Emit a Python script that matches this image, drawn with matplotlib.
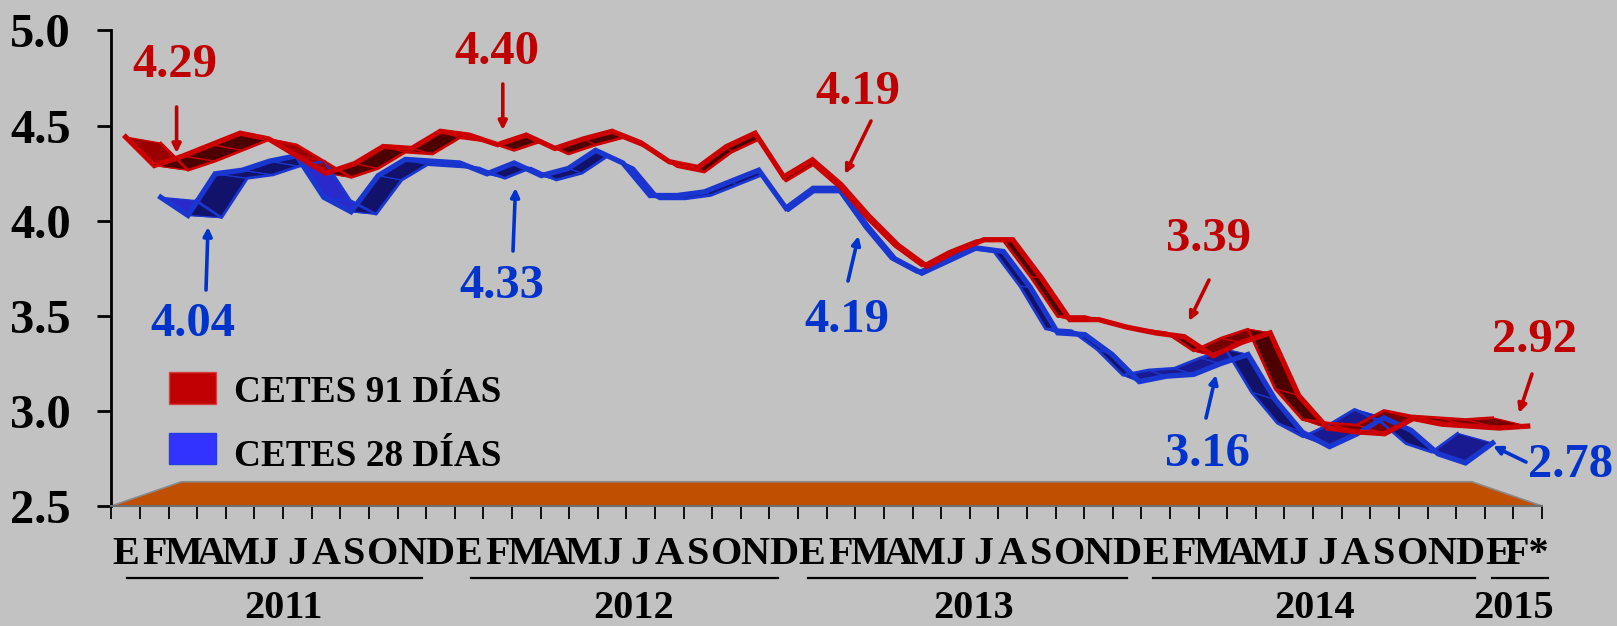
import matplotlib
matplotlib.use("Agg")
import matplotlib.pyplot as plt
from matplotlib.patches import Polygon, Rectangle

plt.rcParams['font.family'] = ['Liberation Serif', 'DejaVu Serif']
plt.rcParams['font.weight'] = 'bold'

W, H = 1617, 626
BG = '#C2C2C2'

cetes_91 = [4.44, 4.29, 4.34, 4.40, 4.46, 4.43, 4.34, 4.25, 4.30, 4.39,
            4.38, 4.47, 4.45, 4.40, 4.45, 4.38, 4.43, 4.47, 4.41, 4.31,
            4.28, 4.39, 4.46, 4.23, 4.32, 4.19, 4.02, 3.87, 3.76, 3.84,
            3.90, 3.90, 3.70, 3.48, 3.48, 3.44, 3.41, 3.39, 3.29, 3.36,
            3.41, 3.08, 2.91, 2.89, 2.88, 2.96, 2.93, 2.92, 2.91, 2.92]
cetes_28 = [4.14, 4.04, 4.27, 4.29, 4.34, 4.37, 4.14, 4.06, 4.26, 4.35,
            4.34, 4.33, 4.27, 4.33, 4.26, 4.30, 4.40, 4.33, 4.15, 4.15,
            4.17, 4.23, 4.29, 4.08, 4.19, 4.19, 3.98, 3.80, 3.72, 3.79,
            3.86, 3.84, 3.64, 3.39, 3.38, 3.27, 3.12, 3.15, 3.16, 3.22,
            3.27, 3.02, 2.84, 2.76, 2.83, 2.92, 2.85, 2.72, 2.67, 2.78]
months = list("EFMAMJJASOND") * 4 + ["E", "F*"]
years = ["2011", "2012", "2013", "2014", "2015"]
y_ticks = [2.5, 3.0, 3.5, 4.0, 4.5, 5.0]

# vanishing point of the 3D view, in data units
VP_X, VP_Y = 25.0, 3.80
FLOOR_DEPTH = 0.098


def project(x, y, z):
    return x + z * (VP_X - x), y + z * (VP_Y - y)


def pos(px, py):
    return px / W, 1 - py / H


def ribbon(ax, values, z0, z1, line, top, top_right, dark):
    for k in range(len(values) - 1):
        a = project(k + 0.5, values[k], z0)
        b = project(k + 1.5, values[k + 1], z0)
        c = project(k + 1.5, values[k + 1], z1)
        d = project(k + 0.5, values[k], z1)
        cross = (b[0] - a[0]) * (d[1] - a[1]) - (b[1] - a[1]) * (d[0] - a[0])
        if cross > 0:
            face = top if k < VP_X else top_right
        else:
            face = dark
        ax.add_patch(Polygon([a, b, c, d], closed=True, facecolor=face,
                             edgecolor=line, linewidth=0.9, clip_on=False))
    xs = [k + 0.5 for k in range(len(values))]
    far = [project(x, v, z1) for x, v in zip(xs, values)]
    near = [project(x, v, z0) for x, v in zip(xs, values)]
    ax.plot([p[0] for p in far], [p[1] for p in far], color=line, lw=2.0,
            solid_joinstyle='round', clip_on=False)
    ax.plot([p[0] for p in near], [p[1] for p in near], color=line, lw=3.8,
            solid_joinstyle='miter', clip_on=False)


fig = plt.figure(figsize=(W / 100, H / 100), dpi=100, facecolor=BG)
ax = fig.add_axes([111.4 / W, 1 - 506 / H, (1542 - 111.4) / W, (506 - 30.5) / H])
ax.set_facecolor(BG)
ax.set_xlim(0, 50)
ax.set_ylim(2.5, 5.0)

floor = [(0, 2.5), (50, 2.5), project(50, 2.5, FLOOR_DEPTH), project(0, 2.5, FLOOR_DEPTH)]
ax.add_patch(Polygon(floor, closed=True, facecolor='#C05000', edgecolor='#8A8A8A', linewidth=1.2))

ribbon(ax, cetes_28, 0.05, 0.10, '#1A36D0', '#2A2ACC', '#1A1A90', '#12126A')
ribbon(ax, cetes_91, 0.0, 0.05, '#CC0000', '#9A0000', '#760000', '#4D0000')

for side in ['top', 'right']:
    ax.spines[side].set_visible(False)
ax.spines['left'].set_linewidth(2)
ax.spines['bottom'].set_linewidth(1.5)
ax.spines['bottom'].set_color('#6E6E6E')
ax.set_yticks(y_ticks)
ax.set_yticklabels(["%.1f" % t for t in y_ticks], fontsize=35, fontweight='bold')
ax.tick_params(axis='y', length=10, width=2, pad=19)
ax.set_xticks(range(51))
ax.set_xticklabels([])
ax.tick_params(axis='x', length=9, width=1.3)

# month and year labels under the axis
for k, m in enumerate(months):
    x = 111.4 + (k + 0.5) * 28.6
    fig.text(*pos(x, 554), m, fontsize=29, ha='center', va='center')
year_x = [283.5, 634, 974, 1315, 1513.6]
year_lines = [(127, 422), (471, 778), (808, 1127), (1153, 1475), (1492, 1548)]
for y, xc, (x0, x1) in zip(years, year_x, year_lines):
    fig.text(*pos(xc, 609), y, fontsize=29, ha='center', va='center')
    fig.add_artist(plt.Line2D([x0 / W, x1 / W], [1 - 578 / H] * 2, color='black', lw=1.6))

# value callouts: text, centre, arrow start, arrow end
RED = '#C00000'
BLUE = '#0033CC'
callouts = [
    ("4.29", RED, (175, 65), (176.6, 107), (176.6, 153)),
    ("4.40", RED, (497, 51.5), (502.8, 84), (502.8, 130)),
    ("4.19", RED, (858, 91.7), (871, 121), (845, 174)),
    ("3.39", RED, (1208, 239), (1209, 280), (1189, 321)),
    ("2.92", RED, (1534, 340), (1532, 374), (1519, 413)),
    ("4.04", BLUE, (193, 324), (206, 290), (208, 227)),
    ("4.33", BLUE, (502, 286.5), (513, 251), (515.5, 188)),
    ("4.19", BLUE, (846.5, 319.5), (848, 281), (858.5, 236)),
    ("3.16", BLUE, (1207, 453.5), (1206, 418), (1216, 375)),
    ("2.78", BLUE, (1571, 465), (1526, 462), (1493, 446)),
]
for label, color, c, start, end in callouts:
    fig.text(*pos(*c), label, color=color, fontsize=35, ha='center', va='center')
    ax.annotate('', xy=pos(*end), xytext=pos(*start), xycoords='figure fraction',
                textcoords='figure fraction',
                arrowprops=dict(arrowstyle='-|>,head_length=0.5,head_width=0.25', color=color,
                                lw=2.6, shrinkA=0, shrinkB=0))

# legend
legend_items = [("CETES 91 DÍAS", '#C00000', '#D84040', 372, 392),
                ("CETES 28 DÍAS", '#3333FF', '#1F3FE0', 432.7, 456.7)]
for text, fc, ec, top, yc in legend_items:
    fig.add_artist(Rectangle((168.7 / W, 1 - (top + 31.5) / H), 47.3 / W, 31.5 / H,
                             transform=fig.transFigure, facecolor=fc, edgecolor=ec, linewidth=1))
    fig.text(*pos(234, yc), text, fontsize=26.8, ha='left', va='center')

fig.savefig('out.png', dpi=100, facecolor=BG)
